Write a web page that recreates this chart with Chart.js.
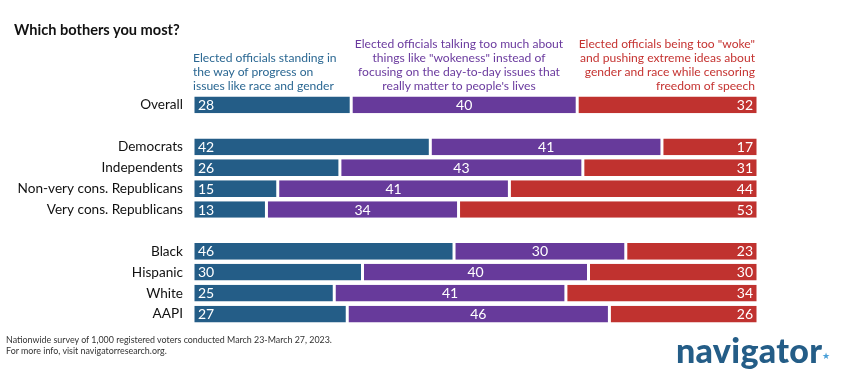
<!DOCTYPE html>
<html><head><meta charset="utf-8">
<script src="https://cdn.jsdelivr.net/npm/chart.js@4.4.0/dist/chart.umd.min.js"></script>
<style>
html,body{margin:0;padding:0;background:#fff;}
#wrap{position:relative;width:843px;height:389px;font-family:Lato,"Open Sans",sans-serif;}
#wrap canvas{position:absolute;left:0;top:0;}
.t{position:absolute;white-space:nowrap;}
#title{left:14px;top:21px;font-size:14.6px;font-weight:bold;color:#111;}
.hdr{font-size:12.1px;line-height:14px;}
#h1{left:193px;top:51px;color:#2a6792;}
#h2{left:459px;top:37px;transform:translateX(-50%);text-align:center;color:#6a3a9e;}
#h3{right:88px;top:37px;text-align:right;color:#c53331;}
#foot{left:6px;top:334px;font-size:8.9px;line-height:11px;color:#333;}
#logo{left:676px;top:329px;font-size:34px;font-weight:900;color:#245d87;letter-spacing:0.3px;}
#dot{left:822px;top:350px;font-size:9px;color:#4aa0d8;}
</style></head><body>
<div id="wrap">
<canvas id="c" width="843" height="389"></canvas>
<div class="t" id="title">Which bothers you most?</div>
<div class="t hdr" id="h1">Elected officials standing in<br>the way of progress on<br>issues like race and gender</div>
<div class="t hdr" id="h2">Elected officials talking too much about<br>things like "wokeness" instead of<br>focusing on the day-to-day issues that<br>really matter to people's lives</div>
<div class="t hdr" id="h3">Elected officials being too "woke"<br>and pushing extreme ideas about<br>gender and race while censoring<br>freedom of speech</div>
<div class="t" id="foot">Nationwide survey of 1,000 registered voters conducted March 23-March 27, 2023.<br>For more info, visit navigatorresearch.org.</div>
<div class="t" id="logo">navigator</div>
<div class="t" id="dot">★</div>
</div>
<script>
const categories = ['Overall','', 'Democrats','Independents','Non-very cons. Republicans','Very cons. Republicans','','Black','Hispanic','White','AAPI'];
// unrounded shares; labels show rounded values
const progressValues = [28,null,42,26,15,13,null,46.2,30,25,27.3];
const wokenessTalkValues = [40,null,41,43,41,34,null,30.4,40,41,46.4];
const tooWokeValues = [32,null,17,31,44,53,null,23.4,30,34,26.3];
const seriesNames = ['Elected officials standing in the way of progress','Elected officials talking too much about wokeness','Elected officials being too woke'];

const colors = ['#245d87','#673a9b','#c0322f'];
const labelAlign = ['left','center','right'];

const valueLabels = {
  id:'valueLabels',
  afterDatasetsDraw(chart){
    const ctx = chart.ctx;
    ctx.save();
    ctx.font = '14px Lato, sans-serif';
    ctx.fillStyle = '#fff';
    ctx.textBaseline = 'middle';
    chart.data.datasets.forEach((ds,di)=>{
      const meta = chart.getDatasetMeta(di);
      meta.data.forEach((bar,i)=>{
        const v = ds.data[i];
        if (v === null || v === undefined) return;
        const left = Math.min(bar.x, bar.base), right = Math.max(bar.x, bar.base);
        const al = labelAlign[di];
        ctx.textAlign = al;
        let x = al==='left' ? left+5 : al==='right' ? right-5 : (left+right)/2;
        ctx.fillText(String(Math.round(v)), x, bar.y+0.5);
      });
    });
    ctx.restore();
  }
};

new Chart(document.getElementById('c'), {
  type:'bar',
  data:{
    labels: categories,
    datasets:[progressValues, wokenessTalkValues, tooWokeValues].map((d,i)=>({
      label: seriesNames[i], data:d, backgroundColor: colors[i],
      borderColor:'#ffffff', borderWidth:{left:1.5,right:1.5,top:0,bottom:0}, borderSkipped:false,
      categoryPercentage:1, barPercentage:0.8
    }))
  },
  options:{
    indexAxis:'y', responsive:false, animation:false,
    layout:{padding:{top:94.5,bottom:64.5,left:0,right:85}},
    plugins:{legend:{display:false},tooltip:{enabled:false}},
    scales:{
      x:{stacked:true,min:0,max:100,display:false},
      y:{stacked:true,
         grid:{display:false,drawTicks:false}, border:{display:false},
         ticks:{padding:10,color:'#111',font:{family:'Lato',size:13.6}},
         afterFit(s){ s.width = 193; }
      }
    }
  },
  plugins:[valueLabels]
});
</script>
</body></html>
